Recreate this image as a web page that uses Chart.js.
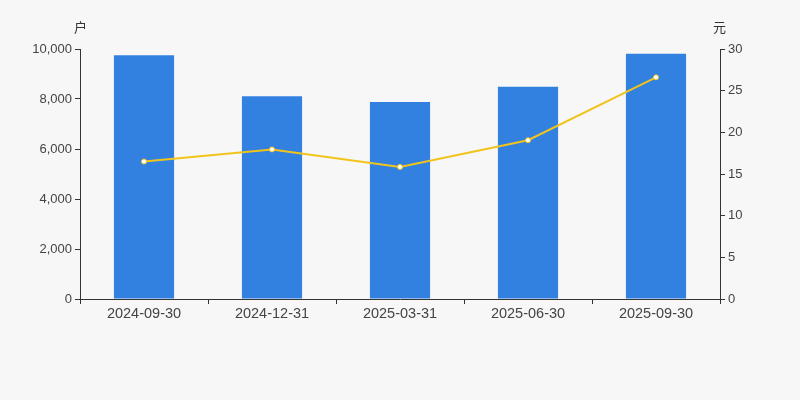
<!DOCTYPE html>
<html><head><meta charset="utf-8">
<script src="https://cdn.jsdelivr.net/npm/chart.js@4/dist/chart.umd.min.js"></script>
<style>html,body{margin:0;padding:0;background:#f7f7f7;}#wrap{width:800px;height:400px;}</style>
</head><body><div id="wrap"><canvas id="c" width="800" height="400"></canvas></div>
<script>
const categories = ['2024-09-30','2024-12-31','2025-03-31','2025-06-30','2025-09-30'];
const holders = [9750, 8110, 7880, 8490, 9810];
const avgValue = [16.5, 17.95, 15.85, 19.05, 26.6];
const leftTicks = [0,2000,4000,6000,8000,10000];
const rightTicks = [0,5,10,15,20,25,30];

const unitPlugin = {
  id:'units',
  afterDraw(chart){
    const ctx = chart.ctx;
    ctx.save();
    ctx.font = '13px "Noto Sans CJK SC", sans-serif';
    ctx.fillStyle = '#333';
    ctx.textBaseline = 'middle';
    ctx.textAlign = 'left';
    ctx.fillText('户', 74, 27);
    ctx.fillText('元', 713, 27);
    ctx.restore();
  }
};

new Chart(document.getElementById('c'), {
  data:{
    labels: categories,
    datasets:[
      {type:'line', data: avgValue, yAxisID:'y1', borderColor:'#f2c31b', borderWidth:2,
       pointRadius:2.5, pointBackgroundColor:'#ffffff', pointBorderColor:'#f2c31b', pointBorderWidth:1,
       tension:0, order:0},
      {type:'bar', data: holders, yAxisID:'y', backgroundColor:'#3280e0',
       barPercentage:0.47, categoryPercentage:1, order:1}
    ]
  },
  plugins:[unitPlugin],
  options:{
    responsive:false, animation:false,
    layout:{padding:{top:49,left:0,right:0,bottom:0}},
    plugins:{legend:{display:false}, tooltip:{enabled:false}},
    scales:{
      x:{
        offset:true,
        grid:{display:true, drawOnChartArea:false, offset:true, tickLength:5, color:'#333'},
        border:{display:true, color:'#333'},
        ticks:{color:'#444', font:{size:14.5, family:'Arial, "Liberation Sans", sans-serif'}, padding:1, maxRotation:0},
        afterFit(s){ s.height = 101; }
      },
      y:{
        position:'left', min:0, max:10000,
        afterBuildTicks(s){ s.ticks = leftTicks.map(v=>({value:v})); },
        grid:{display:true, drawOnChartArea:false, tickLength:5, color:'#333'},
        border:{display:true, color:'#333'},
        ticks:{color:'#444', font:{size:13, family:'Arial, "Liberation Sans", sans-serif'}, padding:3,
          callback:v=>v.toLocaleString('en-US')},
        afterFit(s){ s.width = 80; }
      },
      y1:{
        position:'right', min:0, max:30,
        afterBuildTicks(s){ s.ticks = rightTicks.map(v=>({value:v})); },
        grid:{display:true, drawOnChartArea:false, tickLength:5, color:'#333'},
        border:{display:true, color:'#333'},
        ticks:{color:'#444', font:{size:13, family:'Arial, "Liberation Sans", sans-serif'}, padding:3},
        afterFit(s){ s.width = 80; }
      }
    }
  }
});
</script></body></html>
